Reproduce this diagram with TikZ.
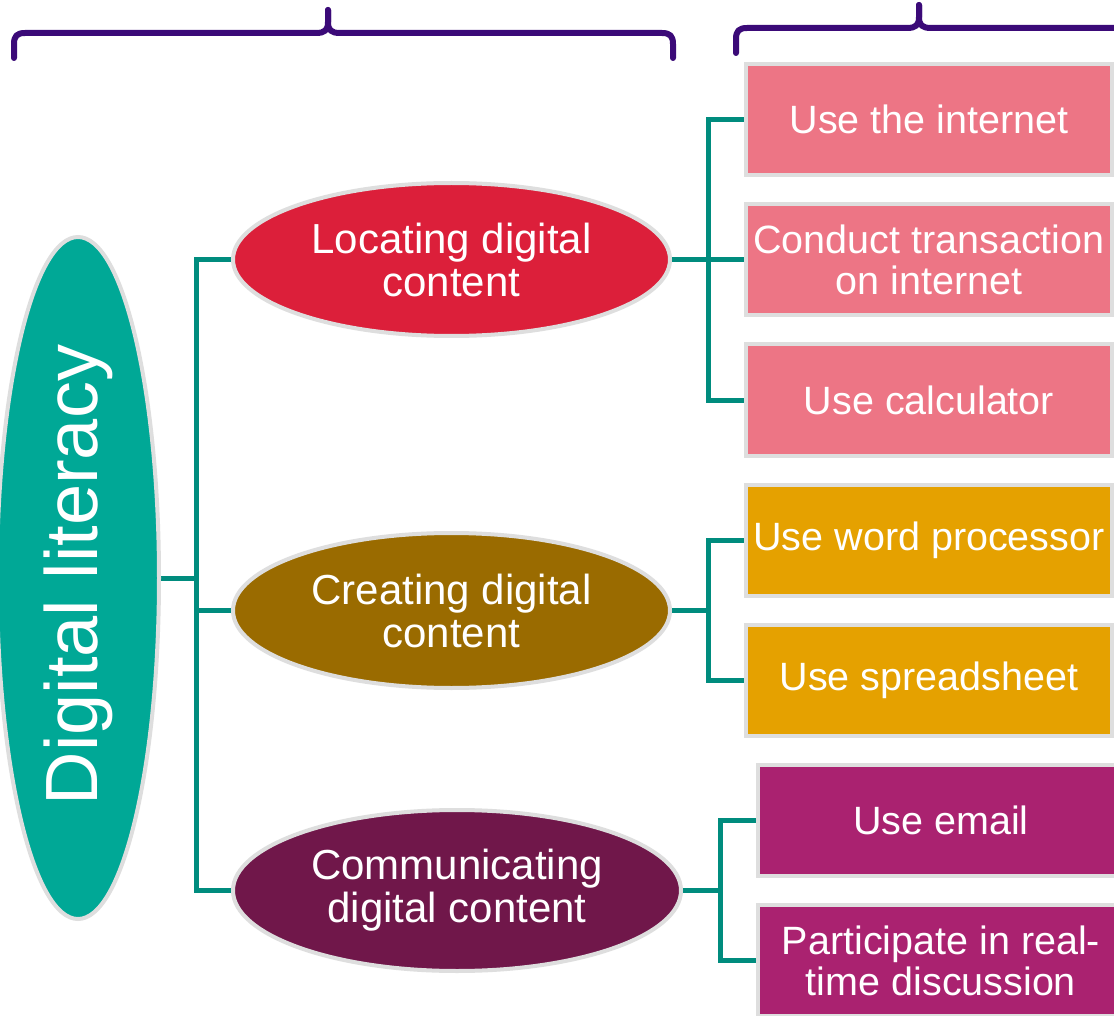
\documentclass[tikz,border=0pt]{standalone}
\usepackage{fontspec}
\setmainfont{Liberation Sans}
\usetikzlibrary{shapes.geometric}
\pgfdeclarelayer{background}
\pgfdeclarelayer{canvas}
\pgfsetlayers{canvas,background,main}
\definecolor{mainteal}{HTML}{00A896}
\definecolor{conn}{HTML}{008C7E}
\definecolor{locred}{HTML}{DC1F3A}
\definecolor{crebrown}{HTML}{9A6B00}
\definecolor{compurple}{HTML}{70174A}
\definecolor{boxpink}{HTML}{ED7585}
\definecolor{boxamber}{HTML}{E5A100}
\definecolor{boxmag}{HTML}{AA2270}
\definecolor{bracecol}{HTML}{3B0A78}
\definecolor{rim}{HTML}{DEDEDE}
\tikzset{
  lvl/.style={ellipse, draw=rim, line width=4pt, inner sep=0pt, text=white, align=center,
    font=\fontsize{42}{43}\selectfont},
  leaf/.style={rectangle, draw=rim, line width=4pt, inner sep=0pt, text=white, align=center,
    minimum width=366pt, minimum height=111pt, font=\fontsize{39.5}{41}\selectfont},
  link/.style={draw=conn, line width=5pt},
  brace/.style={draw=bracecol, line width=6pt, line cap=round, line join=round}
}
\begin{document}
\begin{tikzpicture}[x=1pt, y=-1pt]
\useasboundingbox (0,0) rectangle (1114,1016);
\begin{pgfonlayer}{canvas}
\fill[white] (0,0) rectangle (1114,1016);
\end{pgfonlayer}

% braces
\draw[brace] (14,58) -- (14,44) .. controls (14,36) and (17,33) .. (25,33) -- (316,33)
  .. controls (325,33) and (328,30) .. (328,22) -- (328,10);
\draw[brace] (328,10) -- (328,22) .. controls (328,30) and (331,33) .. (340,33) -- (662,33)
  .. controls (670,33) and (673,36) .. (673,44) -- (673,58);
\draw[brace] (736,53) -- (736,39) .. controls (736,31) and (739,28) .. (747,28) -- (907,28)
  .. controls (916,28) and (919,25) .. (919,17) -- (919,5);
\draw[brace] (919,5) -- (919,17) .. controls (919,25) and (922,28) .. (931,28) -- (1120,28);

% main ellipse
\node[ellipse, draw=rim, line width=4pt, fill=mainteal, inner sep=0pt,
  minimum width=162pt, minimum height=682pt] (main) at (78,578) {};
\node[rotate=90, text=white, font=\fontsize{74}{80}\selectfont] (maintext) at (78,575) {Digital literacy};

% level 2
\node[lvl, fill=locred, minimum width=437pt, minimum height=153pt] (loc) at (451.5,259.5) {Locating digital\\content};
\node[lvl, fill=crebrown, minimum width=437pt, minimum height=155pt] (cre) at (451.5,610.5) {Creating digital\\content};
\node[lvl, fill=compurple, minimum width=448pt, minimum height=161pt] (com) at (457,890.5) {Communicating\\digital content};

% leaves
\node[leaf, fill=boxpink] (b1) at (929,119.5) {Use the internet};
\node[leaf, fill=boxpink] (b2) at (929,259.5) {Conduct transaction\\on internet};
\node[leaf, fill=boxpink] (b3) at (929,400) {Use calculator};
\node[leaf, fill=boxamber] (b4) at (929,540) {Use word processor};
\node[leaf, fill=boxamber] (b5) at (929,680) {Use spreadsheet};
\node[leaf, fill=boxmag] (b6) at (941,820.5) {Use email};
\node[leaf, fill=boxmag] (b7) at (941,960.5) {Participate in real-\\time discussion};

% junctions
\coordinate (j1) at (196,578);
\coordinate (j2) at (708,259.5);
\coordinate (j3) at (708,610.5);
\coordinate (j4) at (720,890.5);

\begin{pgfonlayer}{background}
\draw[link] (main.east) -- (j1);
\draw[link] (loc.west) -| (j1);
\draw[link] (cre.west) -| (j1);
\draw[link] (com.west) -| (j1);
\draw[link] (loc.east) -- (j2);
\draw[link] (b1.west) -| (j2);
\draw[link] (b2.west) -| (j2);
\draw[link] (b3.west) -| (j2);
\draw[link] (cre.east) -- (j3);
\draw[link] (b4.west) -| (j3);
\draw[link] (b5.west) -| (j3);
\draw[link] (com.east) -- (j4);
\draw[link] (b6.west) -| (j4);
\draw[link] (b7.west) -| (j4);
\end{pgfonlayer}
\end{tikzpicture}
\end{document}
